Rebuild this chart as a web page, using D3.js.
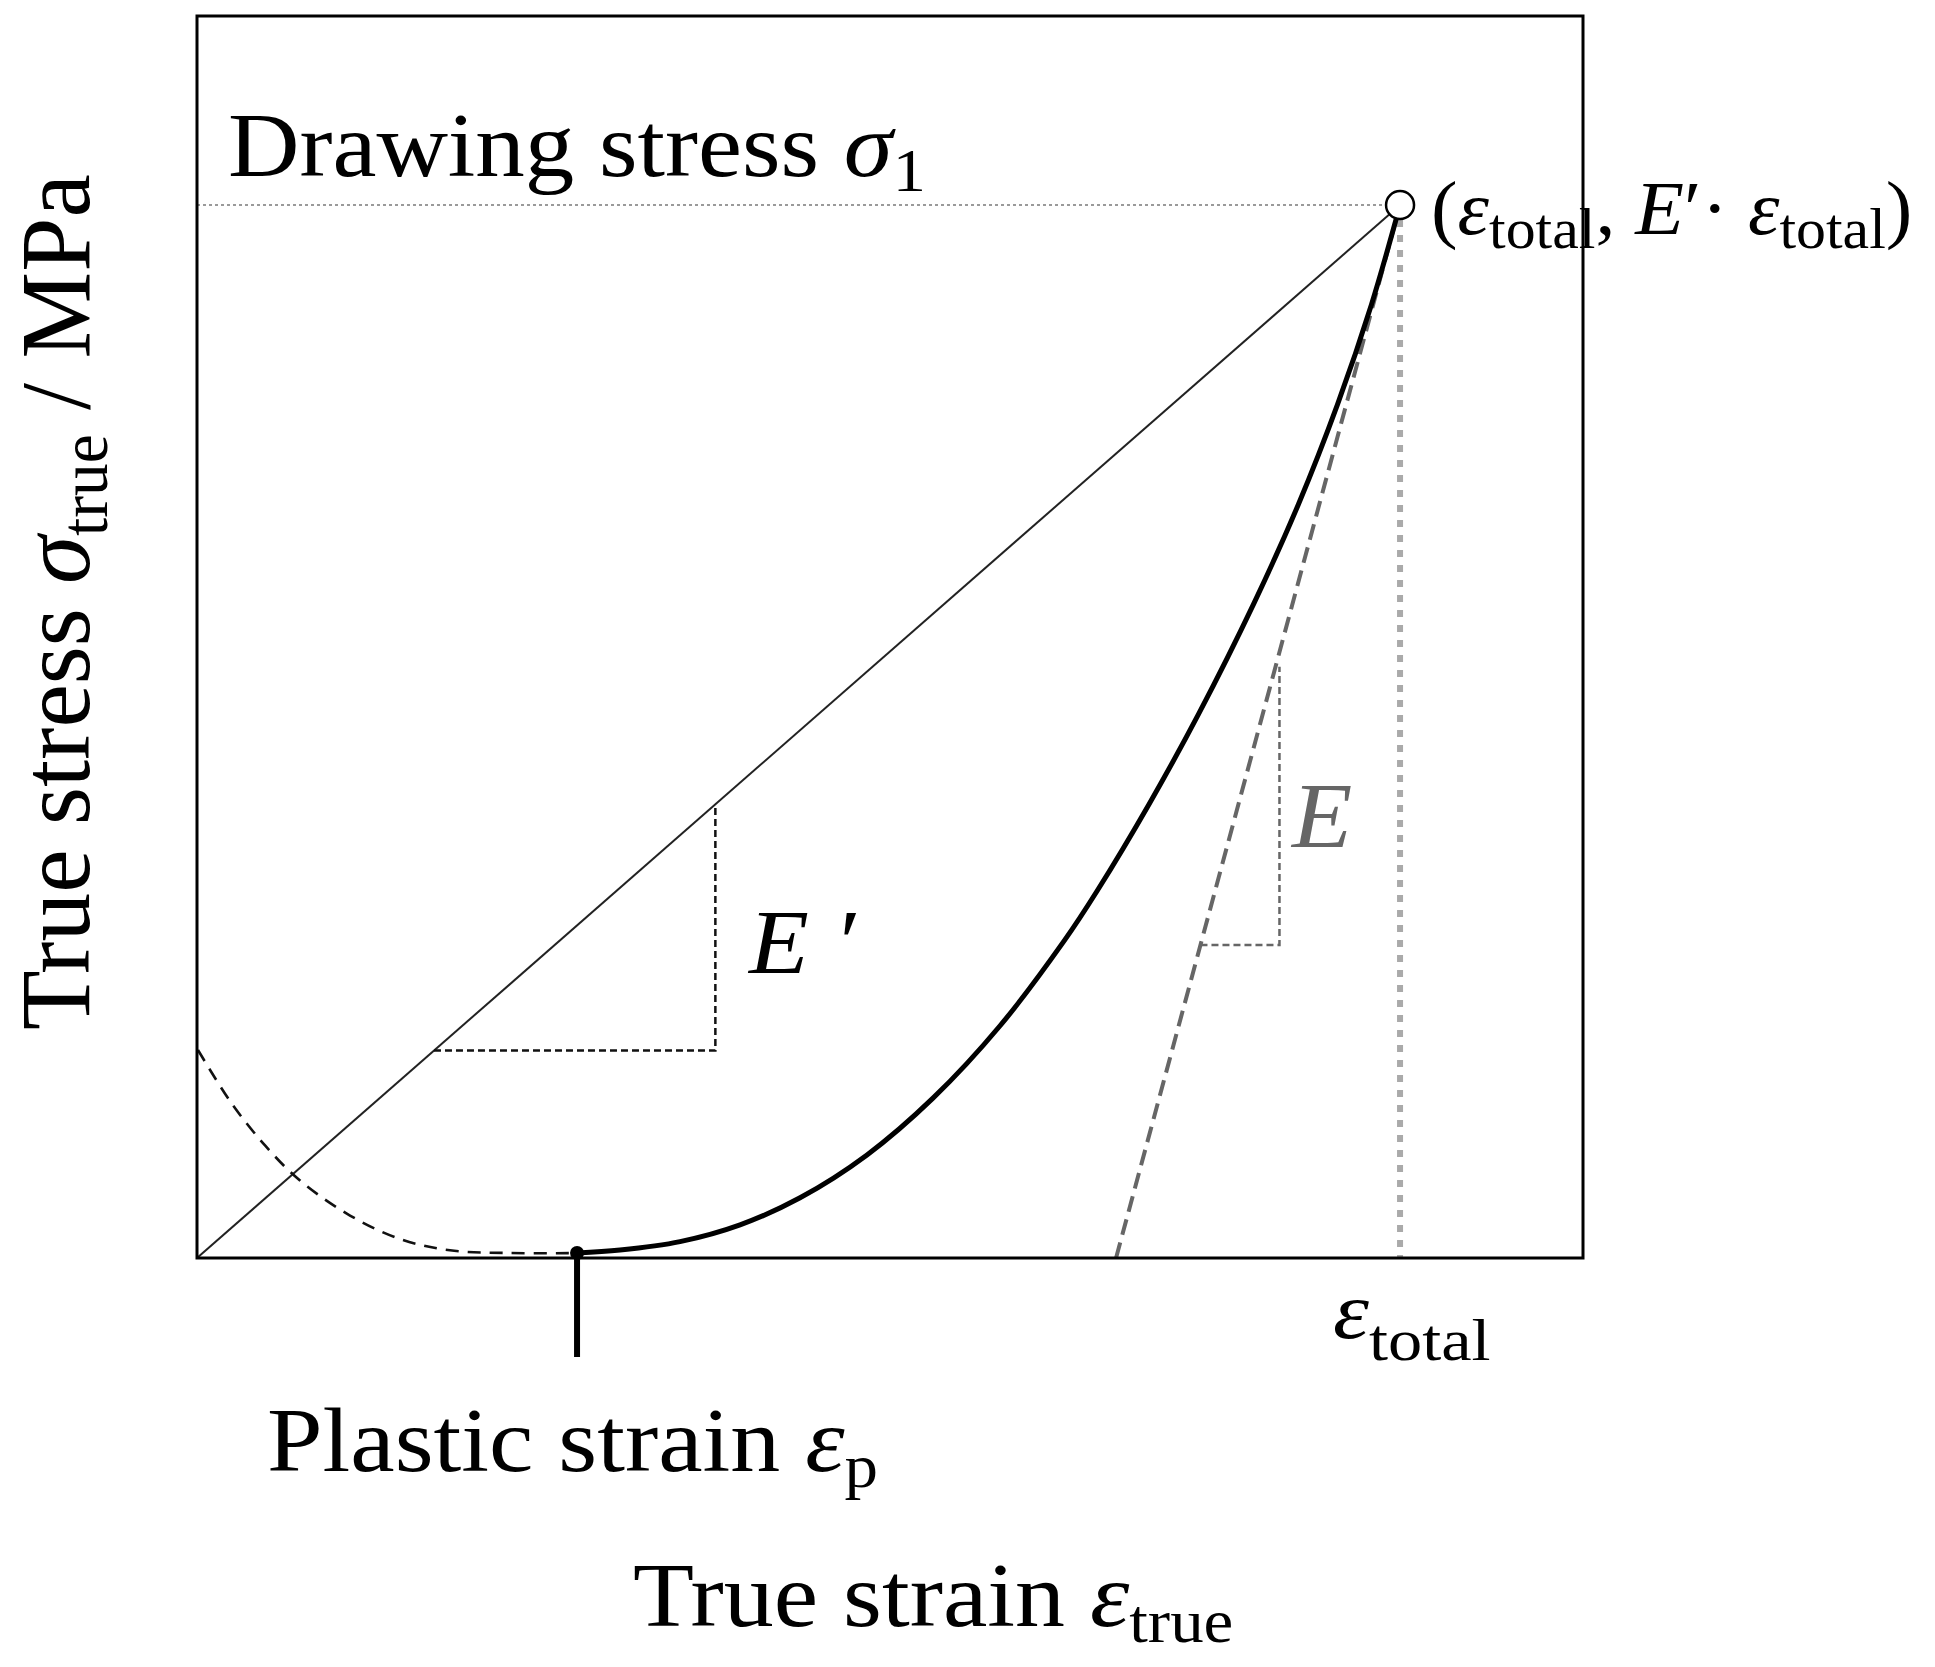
<!DOCTYPE html>
<html>
<head>
<meta charset="utf-8">
<script src="https://cdn.jsdelivr.net/npm/d3@7"></script>
<style>
body { margin: 0; background: #fff; }
svg { display: block; }
text { font-family: "Liberation Serif", "Times New Roman", serif; white-space: pre; }
</style>
</head>
<body>
<div id="chart"></div>
<script>
// schematic stress-strain plot, values in % of the frame (no ticks on the axes)
const loadStrain = [27.42, 30.52, 34.85, 39.18, 43.51, 48.34, 53.10, 57.94, 62.55, 64.94, 68.69, 72.26, 76.23, 79.47, 82.29, 84.74, 86.80]
const loadStress = [0.40, 0.64, 1.32, 2.67, 4.85, 8.30, 12.87, 18.70, 25.51, 29.55, 36.54, 43.79, 52.65, 60.69, 68.73, 76.78, 84.78]

// thin dashed branch left of the plastic strain
const branchStrain = [0.07, 2.38, 4.91, 7.43, 11.04, 14.65, 18.25, 22.58, 27.42]
const branchStress = [16.75, 12.64, 9.06, 6.24, 3.42, 1.53, 0.62, 0.40, 0.40]

const epsTotal = 86.80
const sigmaTotal = 84.78
const epsPlastic = 27.42
const tangentFoot = 66.31   // where the E tangent meets the strain axis

// slope triangles: [level of the horizontal leg, x of the vertical leg, top of vertical leg]
const ePrimeStep = [16.7, 37.4]
const eStep = [25.2, 78.1, 47.6]

const width = 1935, height = 1667

const x = d3.scaleLinear().domain([0, 100]).range([197, 1583])
const y = d3.scaleLinear().domain([0, 100]).range([1258, 16])

const svg = d3.select("#chart").append("svg")
    .attr("width", width).attr("height", height)
    .attr("viewBox", `0 0 ${width} ${height}`)

const g = svg.append("g")

const smooth = d3.line()
    .x(d => x(d[0])).y(d => y(d[1]))
    .curve(d3.curveCatmullRom.alpha(0.5))
const straight = d3.line().x(d => x(d[0])).y(d => y(d[1]))

// E' line through the origin
const kPrime = sigmaTotal / epsTotal
// E tangent
const kTan = sigmaTotal / (epsTotal - tangentFoot)

// guide lines
g.append("path")
    .attr("d", straight([[0, sigmaTotal], [epsTotal, sigmaTotal]]))
    .attr("fill", "none").attr("stroke", "#9a9a9a")
    .attr("stroke-width", 2).attr("stroke-dasharray", "3,3")
g.append("path")
    .attr("d", straight([[epsTotal, sigmaTotal], [epsTotal, 0]]))
    .attr("fill", "none").attr("stroke", "#aaa")
    .attr("stroke-width", 6).attr("stroke-dasharray", "7,8")

// E' secant
g.append("path")
    .attr("d", straight([[0, 0], [epsTotal, sigmaTotal]]))
    .attr("fill", "none").attr("stroke", "#222").attr("stroke-width", 2)

// E' triangle
g.append("path")
    .attr("d", straight([[ePrimeStep[0] / kPrime, ePrimeStep[0]], [ePrimeStep[1], ePrimeStep[0]], [ePrimeStep[1], ePrimeStep[1] * kPrime]]))
    .attr("fill", "none").attr("stroke", "#111")
    .attr("stroke-width", 2.5).attr("stroke-dasharray", "7,4")

// dashed branch
g.append("path")
    .attr("d", smooth(d3.zip(branchStrain, branchStress)))
    .attr("fill", "none").attr("stroke", "#111")
    .attr("stroke-width", 2.6).attr("stroke-dasharray", "13,9")

// E tangent (grey dashed)
g.append("path")
    .attr("d", straight([[tangentFoot, 0], [epsTotal, sigmaTotal]]))
    .attr("fill", "none").attr("stroke", "#666")
    .attr("stroke-width", 4).attr("stroke-dasharray", "16,8")

// E triangle
g.append("path")
    .attr("d", straight([[tangentFoot + eStep[0] / kTan, eStep[0]], [eStep[1], eStep[0]], [eStep[1], eStep[2]]]))
    .attr("fill", "none").attr("stroke", "#666")
    .attr("stroke-width", 2.5).attr("stroke-dasharray", "7,4")

// loading curve
g.append("path")
    .attr("d", smooth(d3.zip(loadStrain, loadStress)))
    .attr("fill", "none").attr("stroke", "#000")
    .attr("stroke-width", 5).attr("stroke-linecap", "round")

// frame
g.append("rect")
    .attr("x", x(0)).attr("y", y(100))
    .attr("width", x(100) - x(0)).attr("height", y(0) - y(100))
    .attr("fill", "none").attr("stroke", "#000").attr("stroke-width", 3)

// plastic strain marker
g.append("line")
    .attr("x1", x(epsPlastic)).attr("x2", x(epsPlastic))
    .attr("y1", y(0)).attr("y2", y(0) + 99)
    .attr("stroke", "#000").attr("stroke-width", 6)
g.append("circle")
    .attr("cx", x(epsPlastic)).attr("cy", y(0.4)).attr("r", 7)
    .attr("fill", "#000")

// end point
g.append("circle")
    .attr("cx", x(epsTotal)).attr("cy", y(sigmaTotal)).attr("r", 14)
    .attr("fill", "#fff").attr("stroke", "#000").attr("stroke-width", 2.5)

// text with italic letters and subscripts
function richText(tx, ty, parts, o) {
    const t = g.append("text")
        .attr("transform", `translate(${tx},${ty})${o.rotate ? " rotate(-90)" : ""} scale(${o.sx || 1},1)`)
        .style("font-size", o.size + "px")
        .attr("fill", o.fill || "#000")
    let shift = 0
    parts.forEach(p => {
        const ts = t.append("tspan").text(p.t)
        if (p.it) ts.style("font-style", "italic")
        const want = p.sub ? o.subDy : 0
        if (want !== shift) { ts.attr("dy", want - shift); shift = want }
        if (p.sub) ts.style("font-size", (o.subSize || 0.67) * o.size + "px")
        if (p.dx) ts.attr("dx", p.dx)
    })
    return t
}

richText(228, 176, [
    { t: "Drawing stress " }, { t: "σ", it: true }, { t: "1", sub: true }
], { size: 90, sx: 1.1, subDy: 15 })

richText(1431, 234, [
    { t: "(" }, { t: "ε", it: true }, { t: "total", sub: true },
    { t: ", " }, { t: "E", it: true }, { t: "′" }, { t: "· " },
    { t: "ε", it: true }, { t: "total", sub: true }, { t: ")" }
], { size: 76, sx: 1.05, subDy: 14, subSize: 0.75 })

richText(1333, 1338, [
    { t: "ε", it: true }, { t: "total", sub: true }
], { size: 80, sx: 1.14, subDy: 22, subSize: 0.75 })

richText(267, 1471, [
    { t: "Plastic strain " }, { t: "ε", it: true }, { t: "p", sub: true }
], { size: 90, sx: 1.11, subDy: 16 })

richText(633, 1626, [
    { t: "True strain " }, { t: "ε", it: true }, { t: "true", sub: true }
], { size: 90, sx: 1.11, subDy: 16 })

richText(89, 1030, [
    { t: "True stress " }, { t: "σ", it: true }, { t: "true", sub: true }, { t: " / MPa" }
], { size: 100, sx: 0.975, rotate: true, subDy: 18 })

richText(749, 973, [
    { t: "E", it: true }, { t: " ′", it: true }
], { size: 90, sx: 1.09 })

richText(1292, 847, [
    { t: "E", it: true }
], { size: 94, sx: 1.05, fill: "#666" })
</script>
</body>
</html>
